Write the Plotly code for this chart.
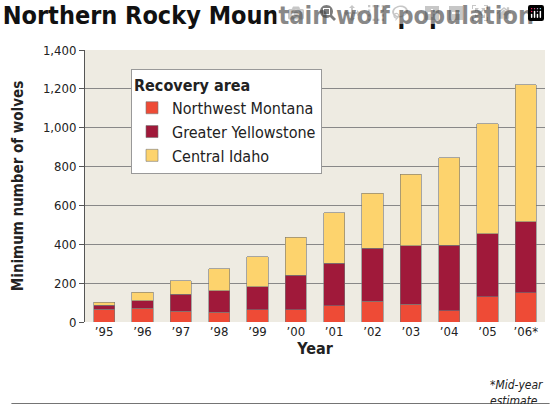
import plotly.graph_objects as go

years = ["’95","’96","’97","’98","’99","’00","’01","’02","’03","’04","’05","’06*"]
nw_montana = [66,70,56,49,63,63,84,108,92,59,130,150]
gr_yellowstone = [21,40,86,112,118,177,218,271,301,335,325,365]
central_idaho = [14,42,71,114,156,197,261,284,368,452,565,705]

F = "DejaVu Sans Condensed, Roboto, sans-serif"
fig = go.Figure()
for name, vals, col in [("Northwest Montana", nw_montana, "#ee4b36"),
                        ("Greater Yellowstone", gr_yellowstone, "#a0193a"),
                        ("Central Idaho", central_idaho, "#fdd36d")]:
    fig.add_bar(x=years, y=vals, name=name, marker=dict(color=col, line=dict(color="#777", width=0.6)), width=0.55)

fig.update_layout(
    width=550, height=404, barmode="stack", paper_bgcolor="white", plot_bgcolor="#eeebe2",
    margin=dict(l=85, r=5, t=50, b=82),
    font=dict(family=F, size=13, color="#222"),
    title=dict(text="<b>Northern Rocky Mountain wolf population</b>", x=0.005, xanchor="left", y=0.985, yanchor="top",
               font=dict(family=F, size=25, color="#111")),
    legend=dict(title=dict(text="<b>Recovery area</b>", font=dict(size=16)), x=0.1, y=0.93, xanchor="left", yanchor="top",
                bgcolor="white", bordercolor="#999", borderwidth=1, font=dict(size=16), traceorder="normal"),
    xaxis=dict(title=dict(text="<b>Year</b>", font=dict(size=16), standoff=4), tickfont=dict(size=13, color="#222"), showline=False),
    yaxis=dict(title=dict(text="<b>Minimum number of wolves</b>", font=dict(size=15)), range=[0,1400], dtick=200,
               tickformat=",", gridcolor="#888", gridwidth=0.6, showline=True, linecolor="#555", ticks="outside",
               ticklen=5, tickcolor="#555", tickfont=dict(size=13, color="#222"), zeroline=False),
    bargap=0.4,
)
fig.add_annotation(text="<i>*Mid-year<br>estimate</i>", xref="paper", yref="paper", x=1.0, y=-0.2, xanchor="right",
                   yanchor="top", showarrow=False, align="left", font=dict(size=12))
fig.add_shape(type="line", xref="paper", yref="paper", x0=-0.16, x1=1.01, y0=-0.3, y1=-0.3, line=dict(color="#666", width=1))
fig.add_annotation(text="<b>VICTOR ADY</b>/Gazette Staff", xref="paper", yref="paper", x=1.01, y=-0.31, xanchor="right",
                   yanchor="top", showarrow=False, font=dict(size=12))
fig.write_html("out.html", post_script="document.body.style.margin='0';document.body.style.overflow='hidden';")
